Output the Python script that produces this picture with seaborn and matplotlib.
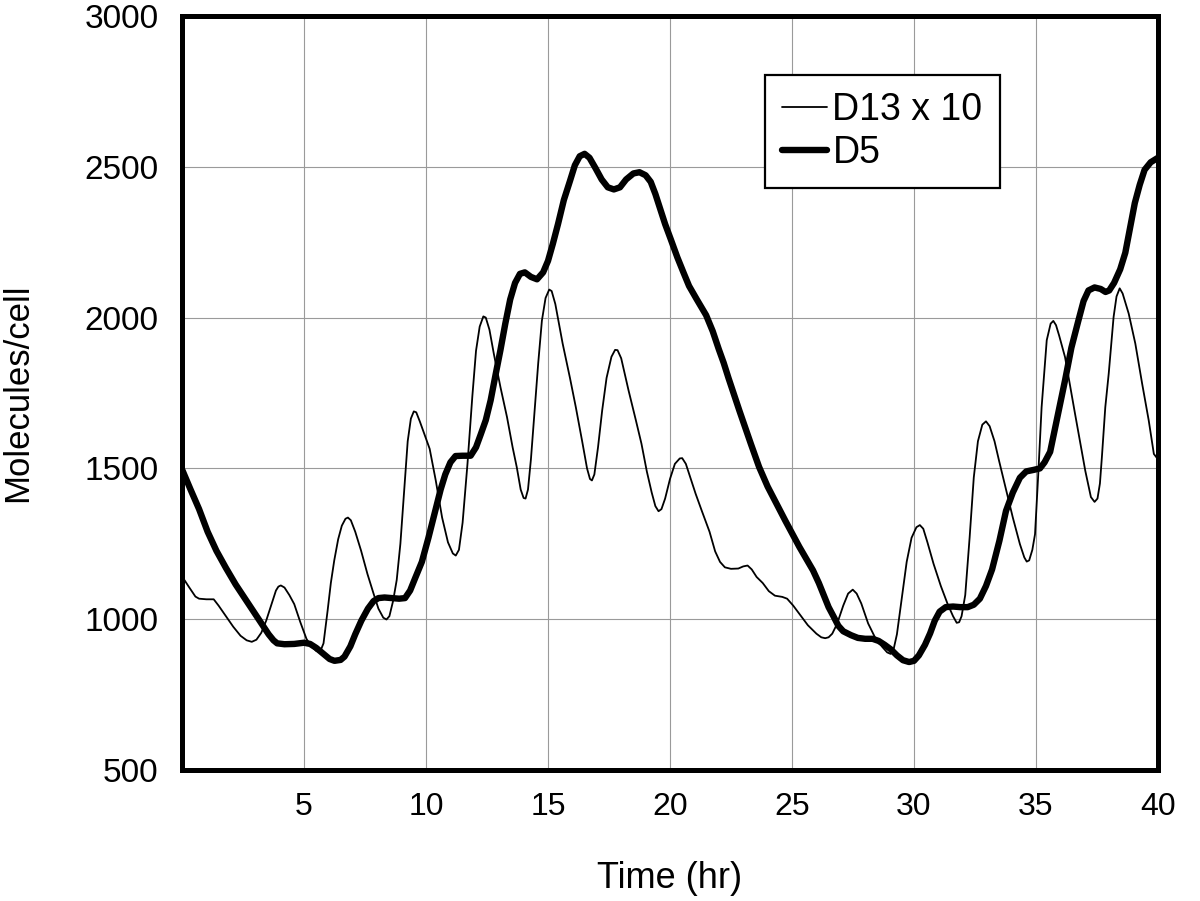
import matplotlib
matplotlib.use("Agg")
import matplotlib.pyplot as plt
import seaborn as sns
import pandas as pd

# D13 x 10 (thin line)
d13_t = [0, 0.3, 0.55, 0.7, 1.0, 1.3, 1.5, 1.8, 2.1, 2.4, 2.65, 2.86, 3.05, 3.25, 3.45, 3.65, 3.85, 3.95,
         4.05, 4.2, 4.4, 4.6, 4.85, 5.1, 5.3, 5.5, 5.65, 5.8, 5.97, 6.1, 6.24, 6.4, 6.55, 6.7, 6.8, 6.92,
         7.1, 7.34, 7.6, 7.85, 8.05, 8.25, 8.38, 8.5, 8.65, 8.8, 8.95, 9.1, 9.25, 9.38, 9.5, 9.6, 9.75,
         9.95, 10.15, 10.4, 10.66, 10.9, 11.1, 11.22, 11.35, 11.5, 11.7, 11.9, 12.05, 12.2, 12.35, 12.45,
         12.6, 12.78, 13.05, 13.32, 13.55, 13.72, 13.88, 14.0, 14.08, 14.18, 14.3, 14.45, 14.6, 14.75,
         14.9, 15.05, 15.15, 15.3, 15.6, 15.9, 16.14, 16.4, 16.6, 16.72, 16.8, 16.9, 17.05, 17.22, 17.4,
         17.6, 17.75, 17.85, 18.0, 18.3, 18.6, 18.83, 19.05, 19.25, 19.4, 19.53, 19.65, 19.8, 20.0, 20.2,
         20.4, 20.5, 20.65, 20.85, 21.05, 21.3, 21.62, 21.85, 22.05, 22.25, 22.5, 22.8, 23.0, 23.18, 23.35,
         23.55, 23.8, 24.05, 24.3, 24.6, 24.8, 25.05, 25.3, 25.65, 26.0, 26.2, 26.36, 26.5, 26.65, 26.85,
         27.1, 27.3, 27.49, 27.65, 27.84, 28.12, 28.4, 28.69, 28.9, 29.04, 29.15, 29.3, 29.5, 29.7, 29.9,
         30.1, 30.24, 30.38, 30.55, 30.8, 31.1, 31.37, 31.6, 31.75, 31.85, 31.95, 32.1, 32.28, 32.45,
         32.62, 32.8, 32.95, 33.1, 33.3, 33.49, 33.77, 34.05, 34.34, 34.52, 34.62, 34.72, 34.85, 34.96,
         35.1, 35.23, 35.44, 35.6, 35.71, 35.82, 35.95, 36.19, 36.6, 37.02, 37.25, 37.4, 37.52, 37.62,
         37.7, 37.84, 37.98, 38.18, 38.3, 38.43, 38.55, 38.8, 39.07, 39.35, 39.62, 39.83, 40]
d13_v = [1142, 1105, 1075, 1068, 1066, 1066, 1045, 1010, 975, 945, 930, 925, 932, 955, 995, 1045, 1095, 1108,
         1112, 1105, 1080, 1050, 990, 935, 910, 895, 890, 920, 1030, 1120, 1195, 1265, 1310, 1333, 1337, 1328,
         1290, 1227, 1150, 1085, 1035, 1005, 999, 1010, 1060, 1130, 1250, 1420, 1590, 1665, 1689, 1686, 1655,
         1610, 1565, 1460, 1337, 1255, 1218, 1211, 1230, 1320, 1515, 1740, 1890, 1970, 2004, 2000,
         1960, 1880, 1770, 1670, 1570, 1504, 1430, 1402, 1400, 1430, 1530, 1690, 1850, 1990,
         2065, 2093, 2088, 2045, 1914, 1800, 1703, 1590, 1500, 1465, 1460, 1480, 1570, 1692, 1800,
         1870, 1893, 1892, 1865, 1759, 1660, 1582, 1490, 1420, 1375, 1358, 1365, 1400, 1465, 1515,
         1533, 1534, 1515, 1465, 1416, 1360, 1290, 1225, 1190, 1172, 1167, 1168, 1175, 1178, 1165,
         1140, 1120, 1093, 1078, 1074, 1068, 1045, 1018, 980, 952, 940, 937, 940, 952, 985,
         1045, 1085, 1098, 1085, 1052, 986, 940, 909, 890, 885, 895, 950, 1070, 1190, 1270,
         1305, 1312, 1300, 1255, 1184, 1110, 1052, 1010, 988, 990, 1010, 1080, 1271, 1470,
         1590, 1645, 1656, 1640, 1590, 1524, 1430, 1337, 1249, 1205, 1191, 1195, 1230, 1282,
         1492, 1703, 1925, 1980, 1989, 1975, 1940, 1869, 1681, 1492, 1405, 1389, 1400, 1450,
         1537, 1703, 1814, 2002, 2070, 2097, 2080, 2013, 1914, 1781, 1659, 1548, 1530]

# D5 (thick line)
d5_t = [0, 0.35, 0.7, 1.05, 1.41, 1.8, 2.2, 2.65, 3.07, 3.3, 3.55, 3.75, 3.9, 4.2, 4.6, 5.0, 5.25, 5.5,
        5.8, 6.05, 6.25, 6.5, 6.66, 6.9, 7.1, 7.35, 7.62, 7.85, 8.05, 8.3, 8.6, 8.9, 9.14, 9.35, 9.55,
        9.83, 10.1, 10.38, 10.6, 10.79, 11.0, 11.21, 11.5, 11.83, 12.05, 12.24, 12.45, 12.65, 12.85,
        13.05, 13.25, 13.45, 13.65, 13.85, 14.05, 14.3, 14.55, 14.8, 15.0, 15.2, 15.41, 15.65, 15.9,
        16.1, 16.3, 16.5, 16.7, 16.95, 17.2, 17.45, 17.7, 17.95, 18.2, 18.5, 18.75, 19.0, 19.21, 19.4,
        19.6, 19.8, 20.03, 20.3, 20.55, 20.78, 21.1, 21.48, 21.75, 22.0, 22.2, 22.4, 22.85, 23.32,
        23.65, 24.0, 24.35, 24.73, 25.3, 25.86, 26.1, 26.3, 26.5, 26.71, 26.9, 27.1, 27.42, 27.7, 28.0,
        28.3, 28.55, 28.8, 29.05, 29.3, 29.55, 29.8, 30.0, 30.2, 30.45, 30.66, 30.85, 31.05, 31.3, 31.6,
        31.9, 32.2, 32.45, 32.7, 32.95, 33.2, 33.5, 33.77, 34.05, 34.34, 34.6, 34.9, 35.16, 35.35,
        35.58, 35.85, 36.19, 36.45, 36.74, 36.95, 37.15, 37.4, 37.65, 37.85, 38.0, 38.2, 38.45, 38.66,
        38.86, 39.05, 39.25, 39.45, 39.7, 40]
d5_v = [1497, 1430, 1365, 1290, 1227, 1170, 1115, 1060, 1008, 980, 950, 930, 920, 917, 918, 922, 918, 905,
        885, 868, 862, 865, 876, 910, 950, 995, 1035, 1060, 1070, 1072, 1070, 1068, 1070, 1095, 1135,
        1190, 1270, 1359, 1430, 1480, 1520, 1541, 1542, 1542, 1570, 1612, 1660, 1726, 1810,
        1892, 1980, 2060, 2115, 2145, 2150, 2135, 2127, 2150, 2188, 2245, 2310, 2390, 2453,
        2505, 2535, 2543, 2530, 2495, 2458, 2432, 2425, 2432, 2458, 2478, 2482, 2472, 2450, 2410,
        2360, 2310, 2260, 2200, 2150, 2105, 2060, 2008, 1955, 1895, 1850, 1799, 1690, 1580,
        1505, 1440, 1385, 1326, 1240, 1162, 1120, 1080, 1040, 1008, 978, 960, 947, 938, 935,
        935, 928, 915, 900, 880, 864, 858, 862, 880, 915, 953, 995, 1025, 1040, 1042,
        1040, 1040, 1048, 1068, 1110, 1165, 1260, 1359, 1420, 1469, 1490, 1495, 1500, 1520,
        1555, 1660, 1792, 1900, 1991, 2055, 2090, 2100, 2095, 2085, 2090, 2115, 2160, 2215,
        2300, 2380, 2440, 2490, 2515, 2530]

x_ticks = [5, 10, 15, 20, 25, 30, 35, 40]
y_ticks = [500, 1000, 1500, 2000, 2500, 3000]
series_names = ["D13 x 10", "D5"]

sns.set_style("white")
plt.rcParams['font.family'] = ['Liberation Sans', 'DejaVu Sans']
plt.rcParams['text.color'] = 'black'
plt.rcParams['axes.labelcolor'] = 'black'
plt.rcParams['xtick.color'] = 'black'
plt.rcParams['ytick.color'] = 'black'

df = pd.concat([
    pd.DataFrame({"t": d13_t, "v": d13_v, "series": series_names[0]}),
    pd.DataFrame({"t": d5_t, "v": d5_v, "series": series_names[1]}),
])

fig = plt.figure(figsize=(12, 9.01), dpi=100)
ax = fig.add_axes([182/1200, 1 - 770/901, (1158-182)/1200, (770-16)/901])

sns.lineplot(data=df, x="t", y="v", hue="series", size="series",
             sizes={series_names[0]: 1.3, series_names[1]: 4.6},
             palette={series_names[0]: "black", series_names[1]: "black"},
             estimator=None, sort=False, ax=ax, legend=True)
for ln in ax.get_lines():
    ln.set_solid_joinstyle("round")
    ln.set_solid_capstyle("round")

ax.set_xlim(0, 40)
ax.set_ylim(500, 3000)
ax.set_xticks(x_ticks)
ax.set_yticks(y_ticks)
ax.grid(True, color="#9a9a9a", linewidth=0.8)
ax.set_axisbelow(True)
for s in ax.spines.values():
    s.set_linewidth(3.6)
    s.set_color("black")
ax.tick_params(axis="both", length=0)
ax.tick_params(axis="y", pad=17, labelsize=24)
ax.tick_params(axis="x", pad=16, labelsize=23)
ax.set_xlabel("Time (hr)", fontsize=26, labelpad=28)
ax.set_ylabel("Molecules/cell", fontsize=25, labelpad=36)

handles, labels = ax.get_legend_handles_labels()
leg = ax.legend(handles, labels, loc="upper left",
                bbox_to_anchor=(765/1200, 1 - 75/901), bbox_transform=fig.transFigure,
                fontsize=27, frameon=True, fancybox=False, framealpha=1,
                edgecolor="black", handlelength=1.2, handletextpad=0.15,
                labelspacing=0.2, borderpad=0.45, borderaxespad=0)
leg.get_frame().set_linewidth(1.6)

fig.savefig("out.png", dpi=100)
